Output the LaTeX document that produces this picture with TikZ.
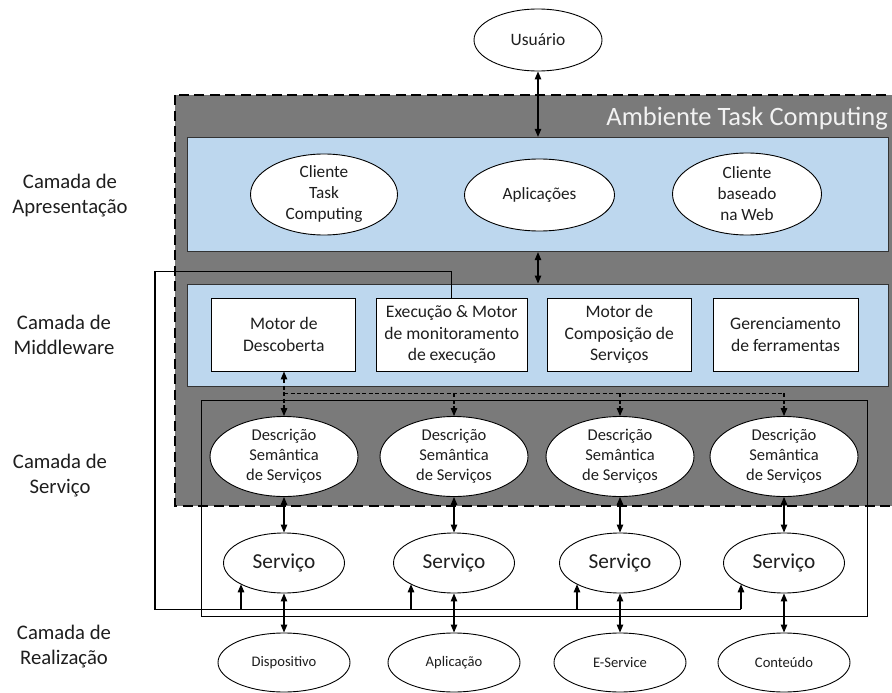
\documentclass[tikz,border=0pt]{standalone}
\usepackage{fontspec}
\setmainfont{Carlito}
\usetikzlibrary{shapes.geometric,arrows.meta,calc}
\definecolor{layergrey}{HTML}{7A7A7A}
\definecolor{layerblue}{HTML}{BDD7EE}
\definecolor{ink}{HTML}{1E1E1E}

\begin{document}
\begin{tikzpicture}[x=1pt,y=-1pt,
  every node/.style={text=ink},
  envbox/.style={fill=layergrey,draw=black,line width=2pt,dash pattern=on 10pt off 5.5pt},
  bluebox/.style={rectangle,fill=layerblue,draw=black!80,line width=0.9pt,inner sep=0},
  mbox/.style={rectangle,fill=white,draw=black,line width=0.9pt,inner sep=0,align=center,
    minimum height=73,font=\fontsize{17.6}{21.5}\selectfont},
  ell/.style={ellipse,fill=white,draw=black,line width=0.9pt,inner sep=0,align=center},
  presell/.style={ell,font=\fontsize{17.2}{21}\selectfont},
  descell/.style={ell,minimum width=148,minimum height=80,font=\fontsize{16.5}{20}\selectfont},
  servell/.style={ell,minimum width=121,minimum height=60,font=\fontsize{21.3}{25}\selectfont},
  realell/.style={ell,minimum width=132,minimum height=59,font=\fontsize{14.6}{18}\selectfont},
  layerlbl/.style={align=center,inner sep=0,font=\fontsize{20.7}{25}\selectfont},
  frame/.style={draw=black,line width=1pt},
  conn/.style={draw=black,line width=1.1pt},
  dashconn/.style={draw=black,line width=1.1pt,dash pattern=on 4pt off 2.5pt},
  tip/.style={-{Triangle[length=8pt,width=6.5pt]}},
  dbltip/.style={{Triangle[length=8pt,width=6.5pt]}-{Triangle[length=8pt,width=6.5pt]}}
]
\useasboundingbox (0,0) rectangle (892,693);
\clip (0,0) rectangle (892,693);

% task computing environment (runs past the right edge)
\draw[envbox] (175,95) rectangle (910,506);
\node[anchor=base east,inner sep=0,text=white!95!black,font=\fontsize{26.5}{30}\selectfont]
  (envtitle) at (888,125) {Ambiente Task Computing};

% layer labels
\node[layerlbl] (lblpres) at (70,196) {Camada de\\Apresentação};
\node[layerlbl] (lblmid)  at (64,335) {Camada de\\Middleware};
\node[layerlbl] (lblserv) at (60,476) {Camada de\\Serviço};
\node[layerlbl] (lblreal) at (64,647) {Camada de\\Realização};

% user
\node[ell,minimum width=128,minimum height=62,font=\fontsize{17.4}{21}\selectfont]
  (usr) at (538,40) {Usuário};

% presentation layer
\node[bluebox,minimum width=700.5,minimum height=114.4] (pres) at (537.75,194.5) {};
\node[presell,minimum width=147,minimum height=81] (cli)  at (324,194.5) {Cliente\\Task\\Computing};
\node[presell,minimum width=150,minimum height=72] (apps) at (539.5,195) {Aplicações};
\node[presell,minimum width=149,minimum height=82] (web)  at (747,194) {Cliente\\baseado\\na Web};

% middleware layer
\node[bluebox,minimum width=700.7,minimum height=102] (mid) at (537.65,335) {};
\node[mbox,minimum width=144]   (disc)  at (283.8,334.5) {Motor\ de\\Descoberta};
\node[mbox,minimum width=151.7] (exec)  at (451.8,334.5) {Execução \& Motor\\de monitoramento\\de execução};
\node[mbox,minimum width=144.7] (comp)  at (619.3,334.5) {Motor\ de\\Composição de\\Serviços};
\node[mbox,minimum width=145]   (tools) at (785.5,334.5) {Gerenciamento\\de ferramentas};

% service frame
\node[frame,rectangle,inner sep=0,minimum width=666.5,minimum height=215.3] (svcframe) at (534.25,508.35) {};

% services and resources, one column each
\foreach \i/\x/\res in {1/284/Dispositivo,2/454/Aplicação,3/620/E-Service,4/784/Conteúdo}{
  \node[descell] (desc\i) at (\x,456.5) {Descrição\\Semântica\\de Serviços};
  \node[servell] (serv\i) at (\x,563) {Serviço};
  \node[realell] (real\i) at (\x,662.5) {\res};
}

% user and layer links
\draw[conn,dbltip] (usr.south) -- (usr.south |- pres.north);
\draw[conn,dbltip] (usr.south |- pres.south) -- (usr.south |- mid.north);

% discovery links to the service descriptions
\coordinate (dj1) at (284,393.3);
\coordinate (dj4) at (784,393.3);
\draw[dashconn,dbltip] (desc1.north |- disc.south) -- (desc1.north);
\draw[dashconn] (dj1) -- (dj4);
\draw[dashconn,tip] (desc2.north |- dj1) -- (desc2.north);
\draw[dashconn,tip] (desc3.north |- dj1) -- (desc3.north);
\draw[dashconn,tip] (dj4) -- (desc4.north);

% description / service / resource links
\foreach \i in {1,2,3,4}{
  \draw[conn,dbltip] (desc\i.south) -- (serv\i.north);
  \draw[conn,dbltip] (serv\i.south) -- (real\i.north);
}

% execution bus feeding every service
\coordinate (busTL) at (155,271.7);
\coordinate (busBL) at (155,609.3);
\foreach \i/\x in {1/241,2/411,3/577,4/741}{
  \coordinate (bus\i) at (\x,609.3);
}
\draw[conn] (exec.north) |- (busTL) -- (busBL) -- (bus4);
\foreach \i in {1,2,3,4}{
  \draw[conn,tip] (bus\i) -- (bus\i |- serv\i.-154);
}
\end{tikzpicture}
\end{document}
